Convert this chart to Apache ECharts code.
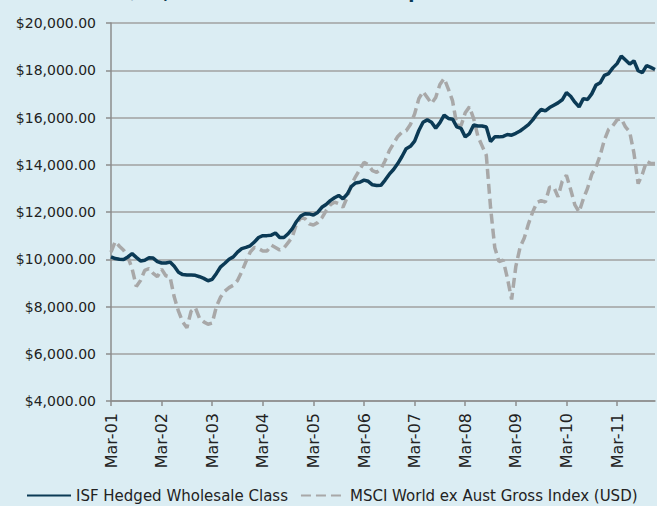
<!DOCTYPE html>
<html>
<head>
<meta charset="utf-8">
<script src="https://cdn.jsdelivr.net/npm/echarts@6/dist/echarts.min.js"></script>
<style>
html,body{margin:0;padding:0;background:#DBEDF3;}
#chart{width:657px;height:506px;}
</style>
</head>
<body>
<div id="chart"></div>
<script>
// Month categories Mar-01 .. Dec-11
const monthNames = ["Jan","Feb","Mar","Apr","May","Jun","Jul","Aug","Sep","Oct","Nov","Dec"];
const categories = [];
for (let y = 2001; y <= 2011; y++) {
  for (let mi = 0; mi < 12; mi++) {
    if (y === 2001 && mi < 2) continue;
    categories.push(monthNames[mi] + "-" + String(y).slice(2));
  }
}

const isfHedged = [
10100,10030,10000,9990,10100,10240,10080,9930,9960,10060,
10050,9900,9840,9840,9880,9700,9450,9350,9330,9330,
9320,9260,9190,9090,9150,9400,9680,9830,10000,10100,
10300,10450,10500,10570,10730,10920,11000,11000,11020,11110,
10920,10920,11080,11300,11600,11830,11930,11920,11870,11980,
12200,12320,12480,12600,12700,12560,12750,13080,13230,13260,
13350,13300,13150,13120,13130,13350,13600,13800,14050,14350,
14680,14780,15000,15450,15800,15900,15800,15550,15780,16100,
15960,15930,15600,15540,15180,15320,15680,15640,15640,15600,
14980,15180,15180,15200,15280,15250,15330,15430,15560,15700,
15900,16150,16340,16280,16420,16520,16620,16750,17050,16900,
16650,16450,16800,16760,17000,17370,17470,17780,17860,18100,
18280,18600,18430,18260,18400,17980,17900,18200,18120,18030
];

const msciWorld = [
10300,10750,10550,10380,10100,9600,8850,9100,9530,9600,
9400,9260,9580,9300,9250,8400,7800,7350,7100,7800,
7950,7500,7350,7250,7300,8000,8400,8650,8800,8900,
9100,9470,9900,10300,10500,10450,10350,10350,10600,10500,
10390,10480,10700,10950,11500,11750,11720,11500,11450,11550,
11750,12050,12300,12420,12350,12200,12620,13150,13500,13800,
14100,14000,13750,13680,13820,14170,14600,14900,15200,15380,
15440,15700,16150,16800,17100,16850,16590,16850,17400,17650,
17200,16700,15680,15650,16200,16450,15950,15200,14800,14400,
12200,10500,9900,9960,9200,8300,9700,10500,10900,11500,
12000,12400,12480,12420,13050,13060,12640,13300,13560,12950,
12300,12000,12550,13000,13600,13900,14400,15050,15500,15650,
15900,15950,15600,15390,14500,13200,13600,14150,14050,14050
];

const seriesNames = ["ISF Hedged Wholesale Class", "MSCI World ex Aust Gross Index (USD)"];
const titleText = "Growth of $10,000 invested since inception";

const FONT = "DejaVu Sans";
const chart = echarts.init(document.getElementById('chart'), null, {renderer: 'svg'});

function money(v) {
  return '$' + v.toLocaleString('en-US', {minimumFractionDigits: 2, maximumFractionDigits: 2});
}

chart.setOption({
  backgroundColor: '#DBEDF3',
  animation: false,
  title: {
    text: titleText,
    left: 14,
    top: -23,
    textStyle: {fontFamily: FONT, fontSize: 18, fontWeight: 'bold', color: '#0B3A55'}
  },
  grid: {left: 111, right: 2, top: 23, bottom: 105, containLabel: false},
  legend: {
    orient: 'horizontal',
    left: 26,
    width: 631,
    bottom: 3,
    padding: 0,
    itemGap: 12,
    itemWidth: 44,
    itemHeight: 12,
    itemStyle: {opacity: 0},
    textStyle: {fontFamily: FONT, fontSize: 15, color: '#222'},
    data: seriesNames
  },
  xAxis: {
    type: 'category',
    data: categories,
    boundaryGap: false,
    axisLine: {lineStyle: {color: '#8C8C8C', width: 1.5}},
    axisTick: {show: true, interval: 11, length: 5, lineStyle: {color: '#8C8C8C', width: 1.5}},
    axisLabel: {
      show: true,
      interval: 11,
      rotate: 90,
      margin: 12,
      fontFamily: FONT,
      fontSize: 16,
      color: '#222'
    },
    splitLine: {show: false}
  },
  yAxis: {
    type: 'value',
    min: 4000,
    max: 20000,
    interval: 2000,
    axisLine: {show: true, lineStyle: {color: '#8C8C8C', width: 1.5}},
    axisTick: {show: true, length: 5, lineStyle: {color: '#8C8C8C', width: 1.5}},
    axisLabel: {formatter: money, margin: 15, fontFamily: FONT, fontSize: 14, color: '#222'},
    splitLine: {show: true, lineStyle: {color: '#A0A0A0', width: 1.5}}
  },
  series: [
    {
      name: seriesNames[0],
      type: 'line',
      data: isfHedged,
      symbol: 'none',
      z: 3,
      lineStyle: {color: '#0B3A55', width: 3.5},
      itemStyle: {color: '#0B3A55'}
    },
    {
      name: seriesNames[1],
      type: 'line',
      data: msciWorld,
      symbol: 'none',
      z: 2,
      lineStyle: {color: '#A8A8A8', width: 3.5, type: [10, 5]},
      itemStyle: {color: '#A8A8A8'}
    }
  ]
});
</script>
</body>
</html>
